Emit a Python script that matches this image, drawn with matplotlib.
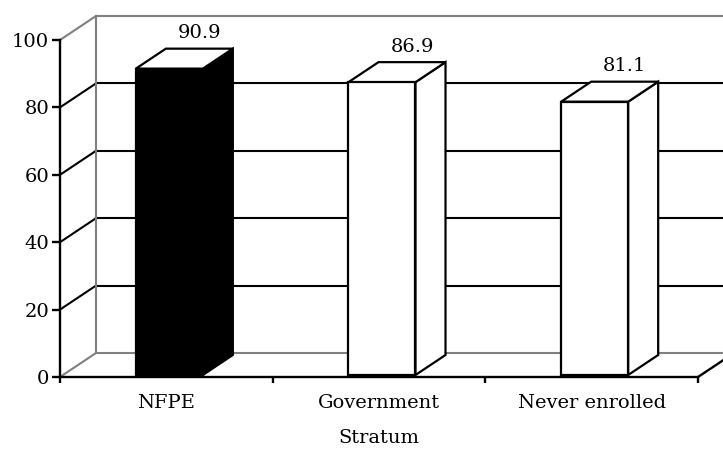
import matplotlib
matplotlib.use("Agg")
import matplotlib.pyplot as plt
from matplotlib.patches import Polygon

categories = ["NFPE", "Government", "Never enrolled"]
values = [90.9, 86.9, 81.1]
face_colors = ["black", "white", "white"]
side_colors = ["black", "white", "white"]
x_label = "Stratum"
y_ticks = [0, 20, 40, 60, 80, 100]

plt.rcParams["font.family"] = ["DejaVu Serif"]
plt.rcParams["font.size"] = 14

W, H, DPI = 723, 450, 100
fig = plt.figure(figsize=(W / DPI, H / DPI), dpi=DPI)
# front plane of the 3D box, in figure pixels: left 60, right 698, top 40, bottom 377
ax = fig.add_axes([60 / W, (H - 377) / H, 638 / W, 337 / H])
ax.set_xlim(-0.5, len(categories) - 0.5)
ax.set_ylim(0, 100)
ax.patch.set_visible(False)

# depth of the wall, in pixels (right, up), converted to data units
depth_px = (36, 24)
px_per_cat = 638 / len(categories)
px_per_unit = 337 / 100
DX = depth_px[0] / px_per_cat
DY = depth_px[1] / px_per_unit

GRAY = "#808080"
LW_AX = 1.7
LW_GRID = 1.5
LW_BAR = 1.6


def proj(x, v, d):
    return (x + d * DX, v + d * DY)


def seg(p, q, color, lw):
    ax.plot([p[0], q[0]], [p[1], q[1]], color=color, lw=lw,
            clip_on=False, solid_capstyle="projecting", zorder=1)


x0, x1 = -0.5, len(categories) - 0.5

# back wall gridlines and left wall diagonals
for v in y_ticks:
    if v in (0, 100):
        c = GRAY
    else:
        c = "black"
    seg(proj(x0, v, 1), proj(x1, v, 1), c, LW_GRID)
    seg(proj(x0, v, 0), proj(x0, v, 1), c, LW_GRID)

# back-left vertical edge of the walls
seg(proj(x0, 0, 1), proj(x0, 100, 1), GRAY, LW_GRID)
# right edge of the floor
seg(proj(x1, 0, 0), proj(x1, 0, 1), "black", LW_AX)

# 3D columns
bar_w = 67 / px_per_cat
d0, d1 = 0.083, 0.917
for i, (val, fc, sc) in enumerate(zip(values, face_colors, side_colors)):
    l, r = i - bar_w / 2, i + bar_w / 2
    front = [proj(l, 0, d0), proj(r, 0, d0), proj(r, val, d0), proj(l, val, d0)]
    top = [proj(l, val, d0), proj(r, val, d0), proj(r, val, d1), proj(l, val, d1)]
    side = [proj(r, 0, d0), proj(r, 0, d1), proj(r, val, d1), proj(r, val, d0)]
    for pts, c in ((side, sc), (top, "white"), (front, fc)):
        ax.add_patch(Polygon(pts, closed=True, facecolor=c, edgecolor="black",
                             lw=LW_BAR, joinstyle="miter", clip_on=False, zorder=3))
    ax.annotate(f"{val}", xy=proj(i, val, d1), xytext=(0, 11),
                textcoords="offset points", ha="center", va="center",
                annotation_clip=False, zorder=4)

# axes lines and ticks
for s in ("top", "right"):
    ax.spines[s].set_visible(False)
for s in ("left", "bottom"):
    ax.spines[s].set_linewidth(LW_AX)
    ax.spines[s].set_zorder(5)

ax.set_yticks(y_ticks)
ax.tick_params(axis="y", direction="out", length=5.8, width=LW_AX, pad=2)
ax.set_xticks([x0 + k for k in range(len(categories) + 1)])
ax.set_xticklabels([])
ax.set_xticks(range(len(categories)), minor=True)
ax.set_xticklabels(categories, minor=True)
ax.tick_params(axis="x", which="major", direction="out", length=4.5, width=LW_AX)
ax.tick_params(axis="x", which="minor", length=0, pad=12)

ax.set_xlabel(x_label)
ax.xaxis.set_label_coords(0.5, -0.181)
ax.xaxis.label.set_va("center")

fig.savefig("out.png", dpi=DPI)
